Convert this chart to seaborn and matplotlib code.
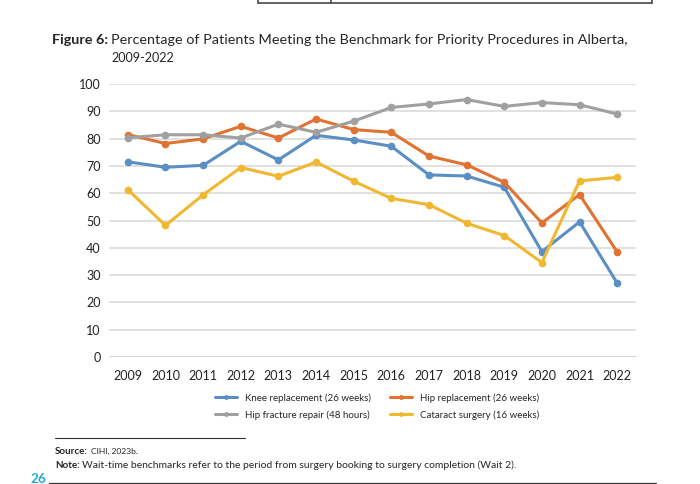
import matplotlib
matplotlib.use("Agg")
import matplotlib.pyplot as plt
import seaborn as sns
import pandas as pd
from matplotlib.lines import Line2D

years = [2009, 2010, 2011, 2012, 2013, 2014, 2015, 2016, 2017, 2018, 2019, 2020, 2021, 2022]
knee = [71.5, 69.5, 70.2, 79.0, 72.2, 81.2, 79.5, 77.2, 66.7, 66.3, 62.2, 38.6, 49.5, 27.1]
hip = [81.5, 78.2, 79.9, 84.5, 80.2, 87.2, 83.3, 82.3, 73.6, 70.4, 64.0, 49.1, 59.5, 38.5]
fracture = [80.3, 81.4, 81.4, 80.2, 85.3, 82.3, 86.4, 91.4, 92.7, 94.3, 91.8, 93.2, 92.4, 89.0]
cataract = [61.3, 48.2, 59.4, 69.4, 66.2, 71.4, 64.4, 58.1, 55.8, 49.0, 44.5, 34.6, 64.5, 65.8]

series = ["Knee replacement (26 weeks)", "Hip replacement (26 weeks)",
          "Hip fracture repair (48 hours)", "Cataract surgery (16 weeks)"]
colors = ["#5B8EC4", "#E07232", "#A0A0A0", "#F2B731"]

df = pd.DataFrame({"year": years * 4,
                   "value": knee + hip + fracture + cataract,
                   "series": [s for s in series for _ in years]})
df["pos"] = df["year"] - years[0]

sns.set_style("white")
plt.rcParams["font.family"] = ["Lato", "DejaVu Sans"]

W, H = 700, 484
fig = plt.figure(figsize=(7, 4.84), dpi=100)
renderer = fig.canvas.get_renderer()


def fx(px):
    return px / W


def fy(py):
    return 1 - py / H


def fit_text(x, y, s, width_px, size=10, **kw):
    # shrink / grow the font so the text spans the width seen in the reference
    t = fig.text(fx(x), fy(y), s, fontsize=size, va="center", ha="left", **kw)
    w = t.get_window_extent(renderer).width
    t.set_fontsize(size * width_px / w)
    return t


ax = fig.add_axes([fx(109), fy(357), fx(636) - fx(109), fy(84) - fy(357)])

sns.lineplot(data=df, x="pos", y="value", hue="series", hue_order=series,
             palette=colors, marker="o", markersize=5.5, markeredgewidth=0,
             linewidth=2.2, ax=ax, legend=False, zorder=3)

ax.set_xlim(-0.5, 13.5)
ax.set_ylim(0, 100)
ax.set_yticks(range(0, 101, 10))
ax.set_xticks(range(len(years)))
ax.set_xticklabels([str(y) for y in years])
ax.tick_params(axis="y", labelsize=9, labelcolor="#222222", length=0, pad=6)
ax.tick_params(axis="x", labelsize=9, labelcolor="#222222", length=0, pad=9)
ax.grid(axis="y", color="#D9D9D9", linewidth=1.1)
ax.set_axisbelow(True)
for s in ax.spines.values():
    s.set_visible(False)
ax.axhline(0, color="#D0D0D0", linewidth=1.1, zorder=1)
ax.set_xlabel("")
ax.set_ylabel("")

# legend: columns are filled first, so order handles to match the reference rows
order = [0, 2, 1, 3]
handles = [Line2D([0], [0], color=colors[i], linewidth=2.2, marker="o", markersize=3.5,
                  markeredgewidth=0) for i in order]
fig.legend(handles, [series[i] for i in order], loc="center",
           bbox_to_anchor=(fx(377), fy(406.5)), ncol=2, frameon=False,
           fontsize=7, handlelength=2.3, handletextpad=0.8, columnspacing=2.0,
           labelspacing=0.75)

# title
fit_text(52, 40, "Figure 6:", 56, size=12, fontweight="bold")
fit_text(111, 40,
         "Percentage of Patients Meeting the Benchmark for Priority Procedures in Alberta,",
         514, size=12)
fit_text(111, 58, "2009-2022", 63, size=12)

# table fragment at top of page
lc = "#555555"
fig.add_artist(Line2D([fx(258), fx(652)], [fy(3), fy(3)], color=lc, linewidth=1.3))
for xv in (258, 331, 652):
    fig.add_artist(Line2D([fx(xv), fx(xv)], [1, fy(3)], color=lc, linewidth=1.3))

# footnotes
fig.add_artist(Line2D([fx(55), fx(245)], [fy(438), fy(438)], color="#333333", linewidth=0.8))
fit_text(55, 451, "Source:", 33, size=7, fontweight="bold")
fit_text(91, 451, "CIHI, 2023b.", 47, size=7)
fit_text(55, 465, "Note:", 25, size=7, fontweight="bold")
fit_text(82, 465,
         "Wait-time benchmarks refer to the period from surgery booking to surgery completion (Wait 2).",
         436, size=7)
fit_text(30, 479, "26", 16, size=11, fontweight="bold", color="#29A9D6")
fig.add_artist(Line2D([fx(49), fx(656)], [fy(482.5), fy(482.5)], color="#333333", linewidth=0.9))

fig.savefig("out.png", dpi=100)
